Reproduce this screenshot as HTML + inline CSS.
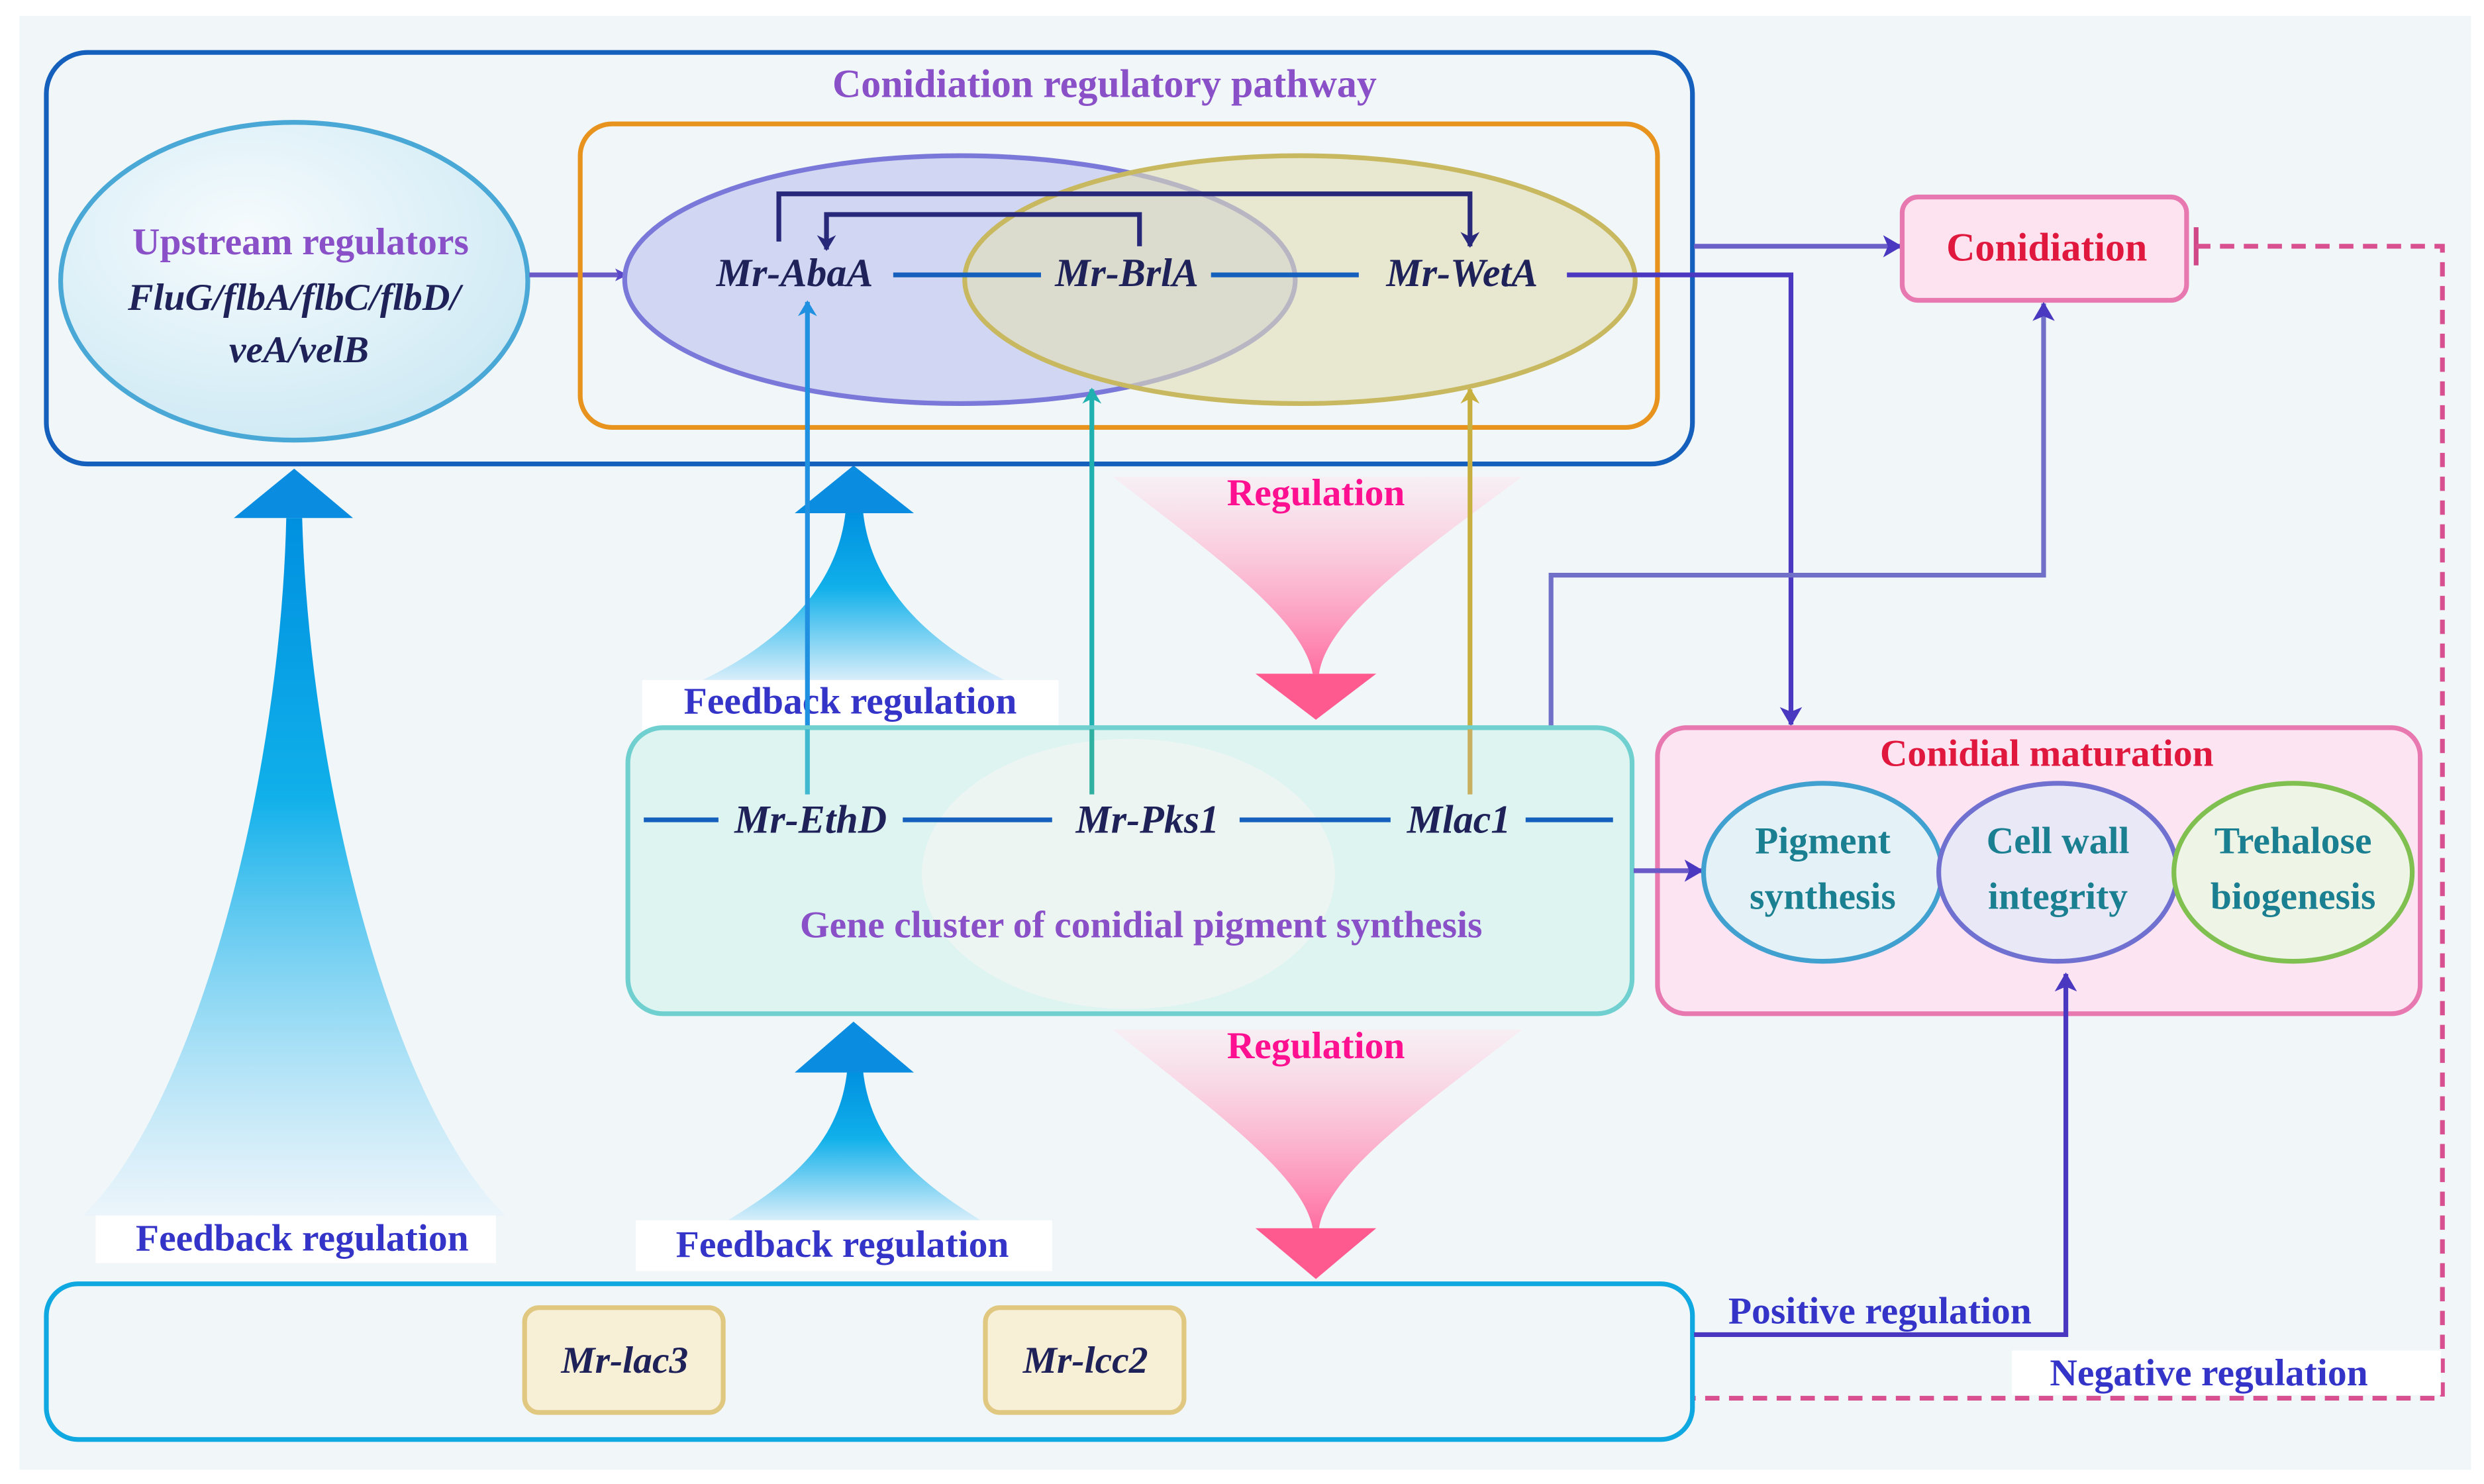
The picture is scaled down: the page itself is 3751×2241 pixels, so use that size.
<!DOCTYPE html>
<html><head><meta charset="utf-8"><style>
html,body{margin:0;padding:0;background:#fff}
svg{display:block}
text{font-family:"Liberation Serif",serif;font-weight:bold}
</style></head><body>
<svg width="3751" height="2241" viewBox="0 0 1563 934" xmlns="http://www.w3.org/2000/svg">
<defs>
<linearGradient id="fbBig" x1="0" y1="0" x2="0" y2="1">
<stop offset="0" stop-color="#0090e0"/><stop offset="0.4" stop-color="#10b0ea"/><stop offset="1" stop-color="#e8f4fc" stop-opacity="0.6"/></linearGradient>
<linearGradient id="fbSm" x1="0" y1="0" x2="0" y2="1">
<stop offset="0" stop-color="#0090e0"/><stop offset="0.45" stop-color="#10b0ea"/><stop offset="1" stop-color="#d8eefa"/></linearGradient>
<linearGradient id="reg" x1="0" y1="0" x2="0" y2="1">
<stop offset="0" stop-color="#fde8f0" stop-opacity="0.5"/><stop offset="1" stop-color="#ff6ea0"/></linearGradient>
<radialGradient id="upg" cx="0.4" cy="0.35" r="0.7"><stop offset="0" stop-color="#f6fbfd"/><stop offset="1" stop-color="#cde9f4"/></radialGradient>
<marker id="ap" markerWidth="8" markerHeight="8" refX="7" refY="4" orient="auto" markerUnits="userSpaceOnUse"><path d="M0,0 L8,4 L0,8 L2,4z" fill="#5a48c8"/></marker>
<marker id="an" markerWidth="10" markerHeight="12" refX="9" refY="6" orient="auto" markerUnits="userSpaceOnUse"><path d="M0,0 L10,6 L0,12 L3,6z" fill="#28287a"/></marker>
<marker id="ab" markerWidth="10" markerHeight="12" refX="9" refY="6" orient="auto" markerUnits="userSpaceOnUse"><path d="M0,0 L10,6 L0,12 L3,6z" fill="#2090e0"/></marker>
<marker id="at" markerWidth="10" markerHeight="12" refX="9" refY="6" orient="auto" markerUnits="userSpaceOnUse"><path d="M0,0 L10,6 L0,12 L3,6z" fill="#20b0b0"/></marker>
<marker id="ao" markerWidth="10" markerHeight="12" refX="9" refY="6" orient="auto" markerUnits="userSpaceOnUse"><path d="M0,0 L10,6 L0,12 L3,6z" fill="#c8b040"/></marker>
<marker id="av" markerWidth="12" markerHeight="14" refX="11" refY="7" orient="auto" markerUnits="userSpaceOnUse"><path d="M0,0 L12,7 L0,14 L3,7z" fill="#4a38c0"/></marker>
</defs>
<rect x="0" y="0" width="1563" height="934" fill="#fff"/>
<rect x="12" y="10" width="1543" height="915" fill="#f1f6f9"/>

<path d="M180,326 L190,326 C195,500 250,700 318,765 L52,765 C120,700 176,500 180,326Z" fill="url(#fbBig)"/>
<path d="M147,326 L185,295 L222,326Z" fill="#0a8de0"/>
<rect x="60" y="765" width="252" height="30" fill="#ffffff"/>
<text x="190" y="787" font-size="24" fill="#3434c8" text-anchor="middle">Feedback regulation</text>

<path d="M532,322 L543,322 C548,370 585,405 632,428 L442,428 C490,405 527,370 532,322Z" fill="url(#fbSm)"/>
<path d="M500,323 L537,293 L575,323Z" fill="#0a8de0"/>
<rect x="404" y="428" width="262" height="32" fill="#ffffff"/>
<text x="535" y="449" font-size="24" fill="#3434c8" text-anchor="middle">Feedback regulation</text>

<path d="M533,674 L543,674 C548,720 580,745 617,768 L458,768 C496,745 528,720 533,674Z" fill="url(#fbSm)"/>
<path d="M500,675 L537,643 L575,675Z" fill="#0a8de0"/>
<rect x="400" y="768" width="262" height="32" fill="#ffffff"/>
<text x="530" y="791" font-size="24" fill="#3434c8" text-anchor="middle">Feedback regulation</text>

<path d="M700,300 L958,300 C890,350 835,390 830,424 L826,424 C820,390 765,350 700,300Z" fill="url(#reg)"/>
<path d="M790,424 L866,424 L828,453Z" fill="#ff5a90"/>
<text x="828" y="318" font-size="24" fill="#ff1090" text-anchor="middle">Regulation</text>
<path d="M700,648 L958,648 C890,700 835,740 830,773 L826,773 C820,740 765,700 700,648Z" fill="url(#reg)"/>
<path d="M790,773 L866,773 L828,805Z" fill="#ff5a90"/>
<text x="828" y="666" font-size="24" fill="#ff1090" text-anchor="middle">Regulation</text>

<rect x="29" y="33" width="1036" height="259" rx="26" fill="none" stroke="#1560bd" stroke-width="3"/>
<text x="695" y="61" font-size="25" fill="#8a50c8" text-anchor="middle">Conidiation regulatory pathway</text>

<ellipse cx="185" cy="177" rx="147" ry="100" fill="url(#upg)" stroke="#4aa8d6" stroke-width="3"/>
<text x="189" y="160" font-size="24" fill="#8a50c8" text-anchor="middle">Upstream regulators</text>
<text x="185" y="195" font-size="24" fill="#1e2258" font-style="italic" text-anchor="middle">FluG/flbA/flbC/flbD/</text>
<text x="188" y="228" font-size="24" fill="#1e2258" font-style="italic" text-anchor="middle">veA/velB</text>
<line x1="333" y1="173" x2="394" y2="173" stroke="#6a5ac8" stroke-width="3" marker-end="url(#ap)"/>

<rect x="365" y="78" width="678" height="191" rx="20" fill="none" stroke="#e8931e" stroke-width="3"/>
<ellipse cx="604" cy="176" rx="211" ry="78" fill="#c6cbf0" fill-opacity="0.75" stroke="#7a78d8" stroke-width="3"/>
<ellipse cx="818" cy="176" rx="211" ry="78" fill="#e3dfb6" fill-opacity="0.6" stroke="#c8b860" stroke-width="3"/>
<line x1="562" y1="173" x2="655" y2="173" stroke="#1560bd" stroke-width="3"/>
<line x1="762" y1="173" x2="855" y2="173" stroke="#1560bd" stroke-width="3"/>
<path d="M490,152 L490,122 L925,122 L925,155" fill="none" stroke="#28287a" stroke-width="3" marker-end="url(#an)"/>
<path d="M717,155 L717,135 L520,135 L520,157" fill="none" stroke="#28287a" stroke-width="3" marker-end="url(#an)"/>
<text x="500" y="180" font-size="25" fill="#1e2258" font-style="italic" text-anchor="middle">Mr-AbaA</text>
<text x="709" y="180" font-size="25" fill="#1e2258" font-style="italic" text-anchor="middle">Mr-BrlA</text>
<text x="920" y="180" font-size="25" fill="#1e2258" font-style="italic" text-anchor="middle">Mr-WetA</text>

<path d="M986,173 L1127,173 L1127,456" fill="none" stroke="#4a38c0" stroke-width="3" marker-end="url(#av)"/>
<line x1="1066" y1="155" x2="1196" y2="155" stroke="#6a60c8" stroke-width="3" marker-end="url(#av)"/>

<rect x="1197" y="124" width="179" height="65" rx="10" fill="#fde2f0" stroke="#e878b0" stroke-width="3"/>
<text x="1288" y="164" font-size="25" fill="#e0183e" text-anchor="middle">Conidiation</text>

<line x1="1382" y1="143" x2="1382" y2="167" stroke="#d04888" stroke-width="3"/>
<path d="M1382,155 L1537,155 L1537,880 L1066,880" fill="none" stroke="#d85090" stroke-width="3" stroke-dasharray="9,6"/>
<rect x="1266" y="850" width="270" height="28" fill="#fff"/>
<text x="1390" y="872" font-size="24" fill="#3434c8" text-anchor="middle">Negative regulation</text>

<path d="M976,458 L976,362 L1286,362 L1286,191" fill="none" stroke="#7070c8" stroke-width="3" marker-end="url(#av)"/>

<line x1="508" y1="500" x2="508" y2="190" stroke="#2090e0" stroke-width="3" marker-end="url(#ab)"/>
<line x1="687" y1="500" x2="687" y2="245" stroke="#20b0b0" stroke-width="3" marker-end="url(#at)"/>
<line x1="925" y1="500" x2="925" y2="245" stroke="#c8b040" stroke-width="3" marker-end="url(#ao)"/>

<rect x="395" y="458" width="632" height="180" rx="22" fill="#ddf4f1" stroke="#70d0d0" stroke-width="3"/>
<ellipse cx="710" cy="550" rx="130" ry="85" fill="#f3f5f2" opacity="0.7"/>
<line x1="508" y1="459" x2="508" y2="500" stroke="#40b8d0" stroke-width="3"/>
<line x1="687" y1="459" x2="687" y2="500" stroke="#30b0a0" stroke-width="3"/>
<line x1="925" y1="459" x2="925" y2="500" stroke="#c8b060" stroke-width="3"/>
<line x1="405" y1="516" x2="452" y2="516" stroke="#1560bd" stroke-width="3"/>
<line x1="568" y1="516" x2="662" y2="516" stroke="#1560bd" stroke-width="3"/>
<line x1="780" y1="516" x2="875" y2="516" stroke="#1560bd" stroke-width="3"/>
<line x1="960" y1="516" x2="1015" y2="516" stroke="#1560bd" stroke-width="3"/>
<text x="510" y="524" font-size="25" fill="#1e2258" font-style="italic" text-anchor="middle">Mr-EthD</text>
<text x="722" y="524" font-size="25" fill="#1e2258" font-style="italic" text-anchor="middle">Mr-Pks1</text>
<text x="918" y="524" font-size="25" fill="#1e2258" font-style="italic" text-anchor="middle">Mlac1</text>
<text x="718" y="590" font-size="24" fill="#8a50c8" text-anchor="middle">Gene cluster of conidial pigment synthesis</text>

<rect x="1043" y="458" width="480" height="180" rx="18" fill="#fde4f2" stroke="#e878b0" stroke-width="3"/>
<line x1="1028" y1="548" x2="1071" y2="548" stroke="#6a5ac8" stroke-width="3" marker-end="url(#av)"/>
<text x="1288" y="482" font-size="24" fill="#e0183e" text-anchor="middle">Conidial maturation</text>
<ellipse cx="1147" cy="549" rx="75" ry="56" fill="#e4f1f6" stroke="#40a0d0" stroke-width="3"/>
<ellipse cx="1295" cy="549" rx="75" ry="56" fill="#e8e8f6" stroke="#7070d0" stroke-width="3"/>
<ellipse cx="1443" cy="549" rx="75" ry="56" fill="#eef4e6" stroke="#80c050" stroke-width="3"/>
<text x="1147" y="537" font-size="24" fill="#1a7f90" text-anchor="middle">Pigment</text>
<text x="1147" y="572" font-size="24" fill="#1a7f90" text-anchor="middle">synthesis</text>
<text x="1295" y="537" font-size="24" fill="#1a7f90" text-anchor="middle">Cell wall</text>
<text x="1295" y="572" font-size="24" fill="#1a7f90" text-anchor="middle">integrity</text>
<text x="1443" y="537" font-size="24" fill="#1a7f90" text-anchor="middle">Trehalose</text>
<text x="1443" y="572" font-size="24" fill="#1a7f90" text-anchor="middle">biogenesis</text>

<rect x="29" y="808" width="1036" height="98" rx="20" fill="none" stroke="#10a8e0" stroke-width="3"/>
<rect x="330" y="823" width="125" height="66" rx="9" fill="#f7efd6" stroke="#e0c880" stroke-width="3"/>
<rect x="620" y="823" width="125" height="66" rx="9" fill="#f7efd6" stroke="#e0c880" stroke-width="3"/>
<text x="393" y="864" font-size="24" fill="#1e2258" font-style="italic" text-anchor="middle">Mr-lac3</text>
<text x="683" y="864" font-size="24" fill="#1e2258" font-style="italic" text-anchor="middle">Mr-lcc2</text>

<path d="M1066,840 L1300,840 L1300,613" fill="none" stroke="#4a38c0" stroke-width="3" marker-end="url(#av)"/>
<text x="1183" y="833" font-size="24" fill="#3434c8" text-anchor="middle">Positive regulation</text>
</svg>
</body></html>
